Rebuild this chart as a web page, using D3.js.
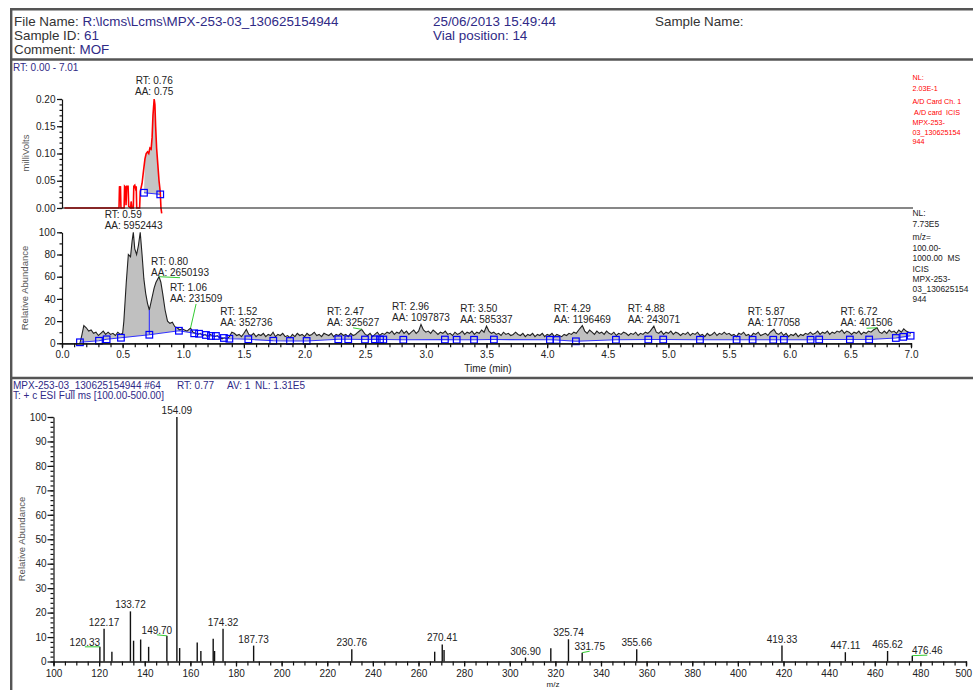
<!DOCTYPE html>
<html><head><meta charset="utf-8">
<script src="https://cdn.jsdelivr.net/npm/d3@7/dist/d3.min.js"></script>
<style>
body{margin:0;background:#fff;}
svg{display:block;font-family:"Liberation Sans",Arial,sans-serif;}
</style></head>
<body><svg id="c" width="973" height="690"></svg>
<script>
// ---- header info ----
const headerLabels = ["File Name:", "Sample ID:", "Comment:"];
const headerValues = ["R:\\lcms\\Lcms\\MPX-253-03_130625154944", "61", "MOF"];
const headerMid = ["25/06/2013 15:49:44", "Vial position: 14"];

// ---- UV (A/D card) trace, minutes vs milliVolts ----
const uvTrace = [[0.02,0],[0.47,0],[0.474,0.04],[0.478,0.035],[0.482,0.04],[0.486,0],[0.512,0],[0.516,0.04],[0.524,0.038],[0.528,0.005],[0.533,0.04],[0.545,0.04],[0.55,0.003],[0.566,0],[0.57,0.012],[0.576,0],[0.588,0],[0.592,0.04],[0.6,0.042],[0.606,0.036],[0.612,0.04],[0.616,0],[0.64,0],[0.645,0.03],[0.66,0.045],[0.672,0.068],[0.684,0.09],[0.694,0.1],[0.705,0.103],[0.715,0.1],[0.725,0.11],[0.735,0.108],[0.743,0.13],[0.75,0.17],[0.76,0.2],[0.766,0.19],[0.772,0.15],[0.78,0.11],[0.79,0.08],[0.8,0.05],[0.81,0.03],[0.816,0],[0.822,-0.01]];
const uvBaseline = [[0.676,0.028],[0.81,0.025]];
const uvPeakRT = [0.76];
const uvPeakAA = ["0.75"];
const uvTicks = [0, 0.05, 0.10, 0.15, 0.20];
const uvNote = ["NL:", "2.03E-1", "A/D Card Ch. 1", " A/D card  ICIS", "MPX-253-", "03_130625154", "944"];

// ---- total ion chromatogram, minutes vs relative abundance ----
const ticTrace = [[0.148,0],[0.165,8],[0.18,16],[0.2,14],[0.22,11],[0.24,12],[0.26,9],[0.28,10],[0.3,7],[0.32,9],[0.34,11],[0.36,8],[0.38,10],[0.4,8],[0.42,9],[0.44,7],[0.46,10],[0.48,8],[0.5,9],[0.51,20],[0.53,55],[0.547,80],[0.565,78],[0.578,92],[0.588,100],[0.6,85],[0.615,80],[0.63,88],[0.645,100],[0.66,80],[0.675,58],[0.69,45],[0.705,36],[0.72,30],[0.74,40],[0.76,50],[0.775,55],[0.8,60],[0.815,55],[0.83,45],[0.85,30],[0.87,20],[0.89,18],[0.91,19],[0.93,15],[0.95,14],[0.97,12],[0.99,13],[1.01,12],[1.03,11],[1.06,13.8],[1.08,10],[1.1,9],[1.12,8],[1.14,9],[1.16,7],[1.18,8],[1.2,6],[1.22,8],[1.24,7],[1.26,6],[1.28,7],[1.3,5],[1.32,4],[1.34,5],[1.36,4],[1.38,6],[1.4,10],[1.42,9],[1.44,7],[1.46,8],[1.48,6],[1.5,9],[1.52,12.5],[1.54,8],[1.56,7],[1.58,9],[1.6,6],[1.62,8],[1.64,7],[1.66,9],[1.68,6],[1.7,8],[1.72,7],[1.74,10],[1.76,6],[1.78,8],[1.8,7],[1.82,9],[1.84,6],[1.86,7],[1.88,5],[1.9,8],[1.92,6],[1.94,9],[1.96,7],[1.98,8],[2,6],[2.02,9],[2.04,7],[2.06,8],[2.08,10],[2.1,7],[2.12,8],[2.14,6],[2.16,9],[2.18,8],[2.2,7],[2.22,9],[2.24,6],[2.26,8],[2.28,7],[2.3,9],[2.32,7],[2.34,8],[2.36,6],[2.38,9],[2.4,7],[2.42,8],[2.44,10],[2.47,12.6],[2.5,8],[2.52,7],[2.54,9],[2.56,6],[2.58,8],[2.6,10],[2.62,7],[2.64,9],[2.66,8],[2.68,10],[2.7,9],[2.72,11],[2.74,8],[2.76,10],[2.78,9],[2.8,12],[2.82,9],[2.84,11],[2.86,8],[2.88,10],[2.9,12],[2.92,9],[2.94,11],[2.96,17],[2.98,12],[3,10],[3.02,11],[3.04,9],[3.06,12],[3.08,10],[3.1,8],[3.12,10],[3.14,9],[3.16,11],[3.18,8],[3.2,9],[3.22,7],[3.24,10],[3.26,8],[3.28,9],[3.3,11],[3.32,8],[3.34,10],[3.36,9],[3.38,11],[3.4,8],[3.42,10],[3.44,9],[3.46,12],[3.48,10],[3.5,15.5],[3.52,11],[3.54,9],[3.56,10],[3.58,8],[3.6,9],[3.62,7],[3.64,10],[3.66,8],[3.68,9],[3.7,7],[3.72,8],[3.74,10],[3.76,8],[3.78,7],[3.8,9],[3.82,6],[3.84,8],[3.86,7],[3.88,9],[3.9,6],[3.92,8],[3.94,7],[3.96,9],[3.98,6],[4,8],[4.02,7],[4.04,9],[4.06,6],[4.08,8],[4.1,7],[4.12,6],[4.14,8],[4.16,7],[4.18,9],[4.2,8],[4.22,10],[4.24,9],[4.26,12],[4.29,16],[4.31,11],[4.33,9],[4.35,12],[4.37,10],[4.39,8],[4.41,11],[4.43,9],[4.45,10],[4.47,8],[4.49,11],[4.51,9],[4.53,8],[4.55,10],[4.57,7],[4.59,9],[4.61,8],[4.63,10],[4.65,9],[4.67,7],[4.69,9],[4.71,8],[4.73,10],[4.75,7],[4.77,9],[4.79,8],[4.81,10],[4.83,9],[4.85,11],[4.88,15.5],[4.9,10],[4.92,9],[4.94,11],[4.96,8],[4.98,10],[5,9],[5.02,11],[5.04,8],[5.06,10],[5.08,9],[5.1,7],[5.12,9],[5.14,8],[5.16,10],[5.18,7],[5.2,9],[5.22,8],[5.24,10],[5.26,7],[5.28,8],[5.3,6],[5.32,9],[5.34,7],[5.36,8],[5.38,10],[5.4,7],[5.42,9],[5.44,8],[5.46,10],[5.48,8],[5.5,9],[5.52,7],[5.54,8],[5.56,6],[5.58,9],[5.6,8],[5.62,10],[5.64,7],[5.66,8],[5.68,6],[5.7,9],[5.72,8],[5.74,10],[5.76,7],[5.78,8],[5.8,9],[5.82,7],[5.84,10],[5.87,12.5],[5.89,9],[5.91,8],[5.93,10],[5.95,7],[5.97,9],[5.99,6],[6.01,8],[6.03,7],[6.05,9],[6.07,6],[6.09,8],[6.11,7],[6.13,9],[6.15,8],[6.17,10],[6.19,8],[6.21,9],[6.23,11],[6.25,8],[6.27,10],[6.29,9],[6.31,11],[6.33,8],[6.35,10],[6.37,9],[6.39,11],[6.41,10],[6.43,12],[6.45,9],[6.47,11],[6.49,10],[6.51,8],[6.53,10],[6.55,9],[6.57,11],[6.59,8],[6.61,10],[6.63,9],[6.65,11],[6.67,10],[6.69,12],[6.72,14],[6.74,10],[6.76,9],[6.78,11],[6.8,9],[6.82,12],[6.84,10],[6.86,11],[6.88,9],[6.9,12],[6.92,10],[6.94,13],[6.96,11],[6.98,10],[7,9]];
const ticBaseline = [[0.148,0.9],[0.305,2.3],[0.368,3.6],[0.486,5],[0.72,7.7],[0.964,11.3],[1.09,9],[1.13,8.6],[1.187,7.5],[1.228,6.6],[1.269,6.6],[1.335,4.8],[1.38,4.1],[1.536,3.6],[1.742,2.3],[1.88,2.1],[2.017,2.1],[2.278,3.6],[2.36,3.6],[2.498,3.4],[2.58,3.6],[2.622,3.4],[2.649,3.4],[2.814,3.2],[3.157,3.4],[3.254,3.2],[3.397,3.2],[3.561,3.4],[4.023,3.2],[4.078,3.0],[4.237,1.8],[4.567,3.2],[4.834,3.4],[4.957,3.4],[5.26,3.2],[5.562,3.2],[5.694,3.2],[5.864,3.2],[5.952,3.2],[6.172,3.2],[6.243,3.4],[6.496,3.4],[6.655,3.4],[6.875,4.8],[6.936,5.8],[6.997,6.8]];
const ticSplitRT = [0.72];
const ticPeakRT = [0.59, 0.80, 1.06, 1.52, 2.47, 2.96, 3.50, 4.29, 4.88, 5.87, 6.72];
const ticPeakAA = ["5952443", "2650193", "231509", "352736", "325627", "1097873", "585337", "1196469", "243071", "177058", "401506"];
const ticTicks = [0, 20, 40, 60, 80, 100];
const timeTicks = [0.0, 0.5, 1.0, 1.5, 2.0, 2.5, 3.0, 3.5, 4.0, 4.5, 5.0, 5.5, 6.0, 6.5, 7.0];
const ticNote = ["NL:", "7.73E5", "m/z=", "100.00-", "1000.00  MS", "ICIS", "MPX-253-", "03_130625154", "944"];

// ---- mass spectrum, scan #64 ----
const specMz = [120.33, 122.17, 125.6, 133.72, 135.1, 138.2, 141.7, 149.70, 154.09, 155.3, 163.0, 164.6, 170.0, 170.6, 174.32, 187.73, 230.76, 267.1, 270.41, 271.2, 306.90, 318.0, 325.74, 331.75, 355.66, 419.33, 447.11, 465.62, 476.46];
const specInt = [6.0, 13.4, 4.0, 20.5, 8.5, 9.0, 6.0, 10.5, 100, 5.5, 7.8, 4.3, 9.3, 4.3, 13.4, 6.5, 5.0, 4.0, 7.0, 4.7, 1.6, 5.4, 9.1, 3.6, 5.0, 6.5, 3.8, 4.3, 2.4];
const specLabelled = [120.33, 122.17, 133.72, 149.70, 154.09, 174.32, 187.73, 230.76, 270.41, 306.90, 325.74, 331.75, 355.66, 419.33, 447.11, 465.62, 476.46];
const specTicksY = [0, 10, 20, 30, 40, 50, 60, 70, 80, 90, 100];
const specTicksX = [100, 120, 140, 160, 180, 200, 220, 240, 260, 280, 300, 320, 340, 360, 380, 400, 420, 440, 460, 480, 500];

const svg = d3.select("#c");
const NAVY = "#2f2a86", INK = "#222", FRAME = "#555", GRID = "#111";

// ---------- frame ----------
const frame = svg.append("g").attr("stroke", FRAME).attr("stroke-width", 2.4);
frame.append("line").attr("x1", 10).attr("x2", 973).attr("y1", 9.2).attr("y2", 9.2);
frame.append("line").attr("x1", 11.2).attr("x2", 11.2).attr("y1", 8).attr("y2", 690);
frame.append("line").attr("x1", 10).attr("x2", 973).attr("y1", 59.5).attr("y2", 59.5);
frame.append("line").attr("x1", 10).attr("x2", 973).attr("y1", 378).attr("y2", 378);

// ---------- header ----------
const hdr = svg.append("g").attr("font-size", 13.4);
headerLabels.forEach((lab, i) => {
  const t = hdr.append("text").attr("x", 14).attr("y", 26 + i * 14);
  t.append("tspan").attr("fill", "#333").text(lab + " ");
  t.append("tspan").attr("fill", NAVY).text(headerValues[i]);
});
headerMid.forEach((s, i) => hdr.append("text").attr("x", 433).attr("y", 26 + i * 14).attr("fill", NAVY).text(s));
hdr.append("text").attr("x", 655).attr("y", 26).attr("fill", "#333").text("Sample Name:");

svg.append("text").attr("x", 13).attr("y", 71).attr("font-size", 10).attr("fill", NAVY).text("RT: 0.00 - 7.01");

// ---------- scales ----------
const xT = d3.scaleLinear().domain([0, 7]).range([62, 911]);
const yU = d3.scaleLinear().domain([0, 0.2]).range([208, 99]);
const yB = d3.scaleLinear().domain([0, 100]).range([343.3, 232.3]);
const xM = d3.scaleLinear().domain([100, 500]).range([53.5, 966]);
const yM = d3.scaleLinear().domain([0, 100]).range([661.5, 417]);

function styleAxis(g) {
  g.selectAll("path,line").attr("stroke", GRID).attr("stroke-width", 1.2);
  g.selectAll("text").attr("fill", INK).attr("font-size", 10).attr("font-family", "Liberation Sans, Arial, sans-serif");
}

// ---------- UV panel ----------
const uv = svg.append("g");
const uLine = d3.line().x(d => xT(d[0])).y(d => yU(d[1]));
const uvFill = uvTrace.filter(d => d[0] >= uvBaseline[0][0] && d[0] <= uvBaseline[1][0]);
const uvPoly = [uvBaseline[0]].concat(uvFill, [uvBaseline[1]]);
uv.append("path").attr("d", uLine(uvPoly) + "Z").attr("fill", "#c4c4c4");
uv.append("path").attr("d", uLine(uvTrace)).attr("fill", "none").attr("stroke", "#f00").attr("stroke-width", 1.6);
uv.append("line").attr("x1", xT(0)).attr("x2", 913).attr("y1", yU(0)).attr("y2", yU(0)).attr("stroke", GRID).attr("stroke-width", 1.2);
uv.append("g").attr("transform", `translate(${xT(0)},0)`)
  .call(d3.axisLeft(yU).tickValues(d3.range(0, 0.2001, 0.01)).tickSize(2.5).tickFormat("")).call(styleAxis)
  .select(".domain").remove();
uv.append("g").attr("transform", `translate(${xT(0)},0)`)
  .call(d3.axisLeft(yU).tickValues(uvTicks).tickSize(5).tickSizeOuter(0).tickPadding(1.5).tickFormat(d3.format(".2f"))).call(styleAxis);
uv.append("path").attr("d", uLine(uvBaseline)).attr("stroke", "#33f").attr("fill", "none");
uvBaseline.forEach(d => uv.append("rect").attr("x", xT(d[0]) - 3.3).attr("y", yU(d[1]) - 3.3).attr("width", 6.6).attr("height", 6.6)
  .attr("fill", "none").attr("stroke", "#00f").attr("stroke-width", 1.2));
uvPeakRT.forEach((rt, i) => {
  const t = uv.append("text").attr("font-size", 10).attr("fill", INK).attr("text-anchor", "middle");
  t.append("tspan").attr("x", xT(rt)).attr("y", 84).text("RT: " + rt.toFixed(2));
  t.append("tspan").attr("x", xT(rt)).attr("y", 95).text("AA: " + uvPeakAA[i]);
});
uv.append("text").attr("transform", "translate(29,153) rotate(-90)").attr("text-anchor", "middle").attr("font-size", 9.5).attr("fill", "#555").text("milliVolts");
const un = uv.append("g").attr("font-size", 7.2).attr("fill", "#f00");
uvNote.forEach((s, i) => un.append("text").attr("x", 912.5).attr("y", [79.5, 91, 103.5, 114.5, 125, 135, 144][i]).attr("xml:space", "preserve").text(s));

// ---------- TIC panel ----------
const tic = svg.append("g");
const tLine = d3.line().x(d => xT(d[0])).y(d => yB(d[1]));
const ticPoly = ticTrace.concat(ticBaseline.slice().reverse());
tic.append("path").attr("d", tLine(ticPoly) + "Z").attr("fill", "#c0c0c0");
tic.append("path").attr("d", tLine(ticTrace)).attr("fill", "none").attr("stroke", "#222").attr("stroke-width", 1.1);
tic.append("path").attr("d", tLine(ticBaseline)).attr("fill", "none").attr("stroke", "#33f").attr("stroke-width", 1.1);
// drop line splitting the co-eluting peaks
const baseAt = d3.scaleLinear().domain(ticBaseline.map(d => d[0])).range(ticBaseline.map(d => d[1]));
const traceAt = d3.scaleLinear().domain(ticTrace.map(d => d[0])).range(ticTrace.map(d => d[1]));
ticSplitRT.forEach(rt => tic.append("line").attr("x1", xT(rt)).attr("x2", xT(rt)).attr("y1", yB(baseAt(rt))).attr("y2", yB(traceAt(rt)))
  .attr("stroke", "#33f").attr("stroke-width", 1.1));
ticBaseline.forEach(d => tic.append("rect").attr("x", xT(d[0]) - 3.3).attr("y", yB(d[1]) - 3.3).attr("width", 6.6).attr("height", 6.6)
  .attr("fill", "none").attr("stroke", "#00f").attr("stroke-width", 1.2));

// axes
tic.append("g").attr("transform", `translate(0,${yB(0)})`)
  .call(d3.axisBottom(xT).tickValues(d3.range(0, 7.001, 0.1)).tickSize(4).tickFormat("")).call(styleAxis);
tic.append("g").attr("transform", `translate(0,${yB(0)})`)
  .call(d3.axisBottom(xT).tickValues(timeTicks).tickSize(5).tickSizeOuter(0).tickPadding(3).tickFormat(d3.format(".1f"))).call(styleAxis);
tic.append("g").attr("transform", `translate(${xT(0)},0)`)
  .call(d3.axisLeft(yB).tickValues(d3.range(0, 101, 10)).tickSize(2.5).tickFormat("")).call(styleAxis).select(".domain").remove();
tic.append("g").attr("transform", `translate(${xT(0)},0)`)
  .call(d3.axisLeft(yB).tickValues(ticTicks).tickSize(5).tickSizeOuter(0).tickPadding(1.5)).call(styleAxis);
tic.append("text").attr("x", 488).attr("y", 372).attr("text-anchor", "middle").attr("font-size", 10).attr("fill", INK).text("Time (min)");
tic.append("text").attr("transform", "translate(28,288) rotate(-90)").attr("text-anchor", "middle").attr("font-size", 9.5).attr("fill", "#555").text("Relative Abundance");

// peak labels: block centred over the apex unless a leader line is drawn
const leader = {"0.80": [21, -1], "1.06": [5.5, -26], "2.47": [-8.5, -3.5], "6.72": [-10.5, -1.5]};
ticPeakRT.forEach((rt, i) => {
  const near = ticTrace.filter(d => Math.abs(d[0] - rt) <= 0.025);
  const apex = d3.max(near, d => d[1]);
  const ax = xT(rt), ay = yB(apex);
  const off = leader[rt.toFixed(2)] || [0, -3];
  const g = tic.append("g");
  const t1 = g.append("text").attr("font-size", 10).attr("fill", INK).attr("y", ay + off[1] - 11).text("RT: " + rt.toFixed(2));
  const t2 = g.append("text").attr("font-size", 10).attr("fill", INK).attr("y", ay + off[1]).text("AA: " + ticPeakAA[i]);
  const w = Math.max(t1.node().getComputedTextLength(), t2.node().getComputedTextLength());
  const cx = ax + off[0];
  t1.attr("x", cx - w / 2); t2.attr("x", cx - w / 2);
  if (leader[rt.toFixed(2)]) {
    g.append("line").attr("x1", ax).attr("y1", ay).attr("x2", cx).attr("y2", ay + off[1] + 2)
      .attr("stroke", "#3c3").attr("stroke-width", 1);
  }
});
const tn = tic.append("g").attr("font-size", 8.4).attr("fill", "#222");
ticNote.forEach((s, i) => tn.append("text").attr("x", 912.5).attr("y", [215.5, 227, 239.5, 250.5, 260.5, 271.5, 281.5, 291.5, 302][i]).attr("xml:space", "preserve").text(s));

// ---------- spectrum ----------
const sp = svg.append("g");
const s1 = sp.append("text").attr("y", 388.5).attr("font-size", 10).attr("fill", NAVY);
s1.append("tspan").attr("x", 13).text("MPX-253-03_130625154944 #64");
s1.append("tspan").attr("x", 177).text("RT: 0.77");
s1.append("tspan").attr("x", 227).text("AV: 1");
s1.append("tspan").attr("x", 255).text("NL: 1.31E5");
sp.append("text").attr("x", 13).attr("y", 398.5).attr("font-size", 10).attr("fill", NAVY).text("T: + c ESI Full ms [100.00-500.00]");

sp.append("g").attr("transform", `translate(0,${yM(0)})`)
  .call(d3.axisBottom(xM).tickValues(d3.range(100, 501, 5)).tickSize(4).tickFormat("")).call(styleAxis);
const mzAxis = sp.append("g").attr("transform", `translate(0,${yM(0)})`)
  .call(d3.axisBottom(xM).tickValues(specTicksX).tickSize(5).tickSizeOuter(0).tickPadding(3)).call(styleAxis);
// last tick label sits against the right edge of the page
mzAxis.selectAll(".tick text").filter(d => d === 500).attr("text-anchor", "start").attr("x", -11);
sp.append("g").attr("transform", `translate(${xM(100)},0)`)
  .call(d3.axisLeft(yM).tickValues(d3.range(0, 101, 2)).tickSize(3).tickFormat("")).call(styleAxis).select(".domain").remove();
sp.append("g").attr("transform", `translate(${xM(100)},0)`)
  .call(d3.axisLeft(yM).tickValues(specTicksY).tickSize(6).tickSizeOuter(0).tickPadding(1)).call(styleAxis);
sp.append("text").attr("x", 553).attr("y", 687).attr("text-anchor", "middle").attr("font-size", 8).attr("fill", INK).text("m/z");
sp.append("text").attr("transform", "translate(25,539) rotate(-90)").attr("text-anchor", "middle").attr("font-size", 9.5).attr("fill", "#555").text("Relative Abundance");

sp.selectAll("line.bar").data(specMz).join("line").attr("class", "bar")
  .attr("x1", d => xM(d)).attr("x2", d => xM(d)).attr("y1", yM(0)).attr("y2", (d, i) => yM(specInt[i]))
  .attr("stroke", "#111").attr("stroke-width", 1.4);

const specLeader = {"120.33": [-15, -1], "149.70": [-10, -2], "331.75": [7.5, -2.5], "476.46": [15, -1.5]};
specLabelled.forEach(mz => {
  const i = specMz.indexOf(mz);
  const bx = xM(mz), by = yM(specInt[i]);
  const key = mz.toFixed(2);
  const off = specLeader[key] || [0, -3];
  sp.append("text").attr("x", bx + off[0]).attr("y", by + off[1]).attr("text-anchor", "middle")
    .attr("font-size", 10).attr("fill", INK).text(key);
  if (specLeader[key]) {
    sp.append("line").attr("x1", bx).attr("y1", by).attr("x2", bx + off[0]).attr("y2", by + off[1] + 1)
      .attr("stroke", "#3c3").attr("stroke-width", 1);
  }
});
</script></body></html>
